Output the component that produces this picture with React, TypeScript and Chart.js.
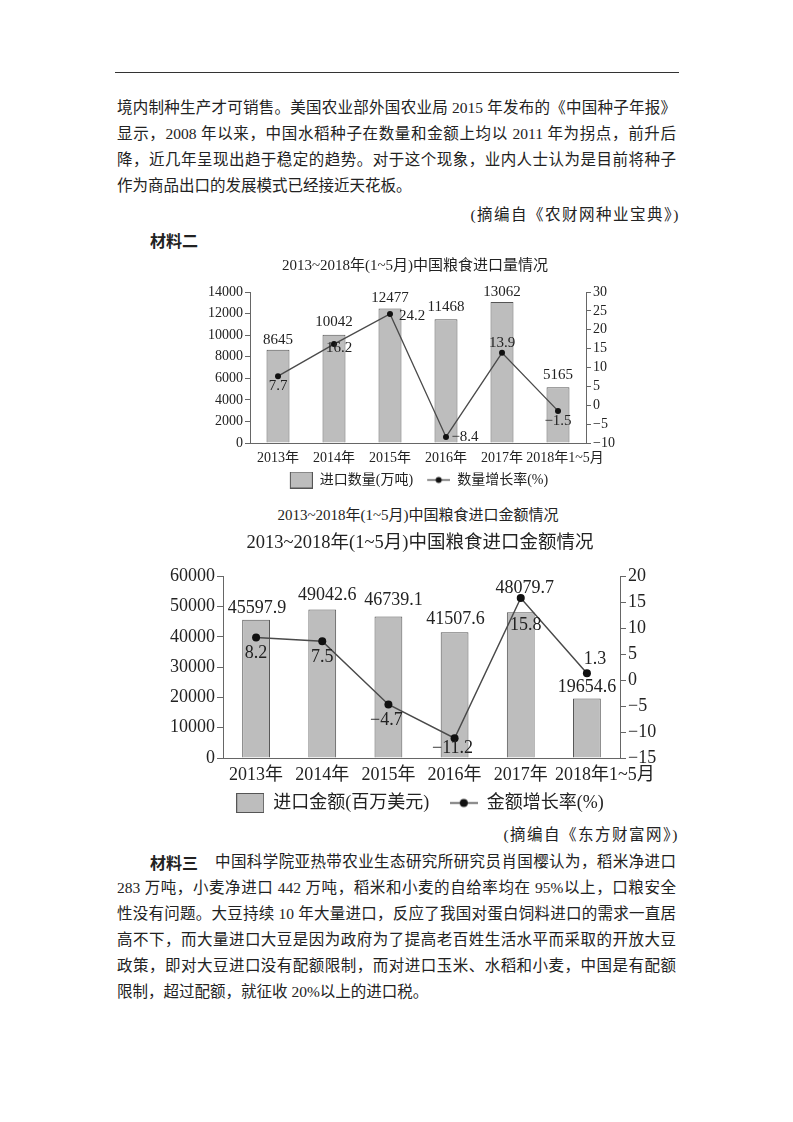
import React, { useEffect, useRef } from "react";
import { Chart, registerables } from "chart.js";

Chart.register(...registerables);

// ---------------- data ----------------
const categories = ["2013年", "2014年", "2015年", "2016年", "2017年", "2018年1~5月"];

const importVolume = [8645, 10042, 12477, 11468, 13062, 5165]; // 万吨
const volumeGrowth = [7.7, 16.2, 24.2, -8.4, 13.9, -1.5]; // %

const importValue = [45597.9, 49042.6, 46739.1, 41507.6, 48079.7, 19654.6]; // 百万美元
const valueGrowth = [8.2, 7.5, -4.7, -11.2, 15.8, 1.3]; // %

const volumeLeftRange = [0, 14000, 2000];
const volumeRightRange = [-10, 30, 5];
const valueLeftRange = [0, 60000, 10000];
const valueRightRange = [-15, 20, 5];

const volumeTitle = "2013~2018年(1~5月)中国粮食进口量情况";
const valueTitle = "2013~2018年(1~5月)中国粮食进口金额情况";
const volumeLegend = ["进口数量(万吨)", "数量增长率(%)"];
const valueLegend = ["进口金额(百万美元)", "金额增长率(%)"];

// ---------------- page text ----------------
const para1Lines = [
  "境内制种生产才可销售。美国农业部外国农业局 2015 年发布的《中国种子年报》",
  "显示，2008 年以来，中国水稻种子在数量和金额上均以 2011 年为拐点，前升后",
  "降，近几年呈现出趋于稳定的趋势。对于这个现象，业内人士认为是目前将种子",
  "作为商品出口的发展模式已经接近天花板。",
];
const source1 = "(摘编自《农财网种业宝典》)";
const heading2 = "材料二";
const source2 = "(摘编自《东方财富网》)";
const heading3 = "材料三";
const para3First = "中国科学院亚热带农业生态研究所研究员肖国樱认为，稻米净进口";
const para3Lines = [
  "283 万吨，小麦净进口 442 万吨，稻米和小麦的自给率均在 95%以上，口粮安全",
  "性没有问题。大豆持续 10 年大量进口，反应了我国对蛋白饲料进口的需求一直居",
  "高不下，而大量进口大豆是因为政府为了提高老百姓生活水平而采取的开放大豆",
  "政策，即对大豆进口没有配额限制，而对进口玉米、水稻和小麦，中国是有配额",
  "限制，超过配额，就征收 20%以上的进口税。",
];

// ---------------- styles ----------------
const FONT = "'Liberation Serif', 'Noto Sans CJK SC', serif";
const TEXT = "#222";
const AXIS = "#666";
const BAR_FILL = "#bdbdbd";
const BAR_BORDER = "#555";
const LINE_COLOR = "#4a4a4a";
const DOT = "#111";

// label offsets [dx, dy] relative to the drawn element
const volBarLabelOffsets = [[0, -10], [0, -13], [0, -10], [0, -12], [0, -10], [0, -12]];
const volLineLabelOffsets = [[0, 10], [5, 4], [22, 2], [19, 0], [0, -10], [0, 10]];
const valBarLabelOffsets = [[1, -12], [5, -14], [5, -16], [1, -13], [4, -24], [0, -11]];
const valLineLabelOffsets = [[0, 16], [0, 16], [-2, 16], [-2, 10], [5, 27], [8, -14]];

const minus = (s: string) => s.replace("-", "\u2212");

const valueLabelPlugin = {
  id: "valueLabels",
  afterDatasetsDraw(chart: any, _args: any, opts: any) {
    const ctx = chart.ctx;
    ctx.save();
    ctx.font = `${opts.size}px ${FONT}`;
    ctx.fillStyle = TEXT;
    ctx.textAlign = "center";
    ctx.textBaseline = "middle";
    chart.data.datasets.forEach((ds: any, di: number) => {
      const meta = chart.getDatasetMeta(di);
      const offs = opts.offsets[di];
      const dec = opts.decimals[di];
      meta.data.forEach((el: any, i: number) => {
        const v = ds.data[i] as number;
        const txt = minus(dec > 0 ? v.toFixed(dec) : String(v));
        ctx.fillText(txt, el.x + offs[i][0], el.y + offs[i][1]);
      });
    });
    ctx.restore();
  },
};

// icons are drawn right-aligned inside a canvas that is `pad` wider on the left
function boxIcon(w: number, h: number, pad: number) {
  const c = document.createElement("canvas");
  c.width = w + pad;
  c.height = h;
  const g = c.getContext("2d")!;
  g.fillStyle = BAR_FILL;
  g.fillRect(pad, 0, w, h);
  g.strokeStyle = BAR_BORDER;
  g.lineWidth = 1;
  g.strokeRect(pad + 0.5, 0.5, w - 1, h - 1);
  return c;
}

function lineIcon(w: number, h: number, r: number, lw: number, pad: number) {
  const c = document.createElement("canvas");
  c.width = w + pad;
  c.height = h;
  const g = c.getContext("2d")!;
  g.strokeStyle = LINE_COLOR;
  g.lineWidth = lw;
  g.beginPath();
  g.moveTo(pad, h / 2);
  g.lineTo(pad + w, h / 2);
  g.stroke();
  g.fillStyle = DOT;
  g.beginPath();
  g.arc(pad + w / 2, h / 2, r, 0, Math.PI * 2);
  g.fill();
  return c;
}

type Spec = {
  width: number;
  height: number;
  title: string;
  titleSize: number;
  titlePad: { top: number; bottom: number };
  tickSize: number;
  labelSize: number;
  legendSize: number;
  legendPad: number;
  legendTexts: string[];
  legendSpacer: string;
  lastTickPrefix: string;
  iconPad: number;
  iconW: number;
  iconH: number;
  dotR: number;
  lineW: number;
  bars: number[];
  line: number[];
  leftRange: number[];
  rightRange: number[];
  leftW: number;
  rightW: number;
  tickLen: number;
  xPad: number;
  xH: number;
  barPct: number;
  barDec: number;
  barOffs: number[][];
  lineOffs: number[][];
};

function buildConfig(s: Spec): any {
  const barImg = boxIcon(s.iconW, s.iconH, s.iconPad);
  const lineImg = lineIcon(s.iconW, Math.ceil(s.dotR * 2 + 3), s.dotR, s.lineW, s.iconPad);
  const tickFont = { family: FONT, size: s.tickSize };
  return {
    type: "bar",
    data: {
      labels: categories,
      datasets: [
        {
          type: "bar",
          label: s.legendTexts[0],
          data: s.bars,
          backgroundColor: BAR_FILL,
          borderColor: BAR_BORDER,
          borderWidth: 1,
          categoryPercentage: 1,
          barPercentage: s.barPct,
          yAxisID: "yL",
          order: 2,
        },
        {
          type: "line",
          label: s.legendTexts[1],
          data: s.line,
          borderColor: LINE_COLOR,
          borderWidth: s.lineW,
          pointRadius: s.dotR,
          pointBackgroundColor: DOT,
          pointBorderColor: DOT,
          pointBorderWidth: 0,
          tension: 0,
          yAxisID: "yR",
          order: 1,
        },
      ],
    },
    options: {
      responsive: false,
      animation: false,
      devicePixelRatio: 1,
      layout: { padding: 0 },
      scales: {
        x: {
          grid: { display: false, drawTicks: false },
          border: { display: true, color: AXIS, width: 1 },
          ticks: {
            font: tickFont,
            color: TEXT,
            padding: s.xPad,
            maxRotation: 0,
            autoSkip: false,
            callback: (_v: any, i: number) =>
              i === categories.length - 1 ? s.lastTickPrefix + categories[i] : categories[i],
          },
          afterFit: (sc: any) => {
            sc.height = s.xH;
          },
        },
        yL: {
          position: "left",
          min: s.leftRange[0],
          max: s.leftRange[1],
          ticks: {
            stepSize: s.leftRange[2],
            autoSkip: false,
            font: tickFont,
            color: TEXT,
            padding: 2,
            callback: (v: any) => String(v),
          },
          grid: { drawOnChartArea: false, drawTicks: true, tickLength: s.tickLen, color: AXIS },
          border: { display: true, color: AXIS, width: 1 },
          afterFit: (sc: any) => {
            sc.width = s.leftW;
          },
        },
        yR: {
          position: "right",
          min: s.rightRange[0],
          max: s.rightRange[1],
          ticks: {
            stepSize: s.rightRange[2],
            autoSkip: false,
            font: tickFont,
            color: TEXT,
            padding: 2,
            callback: (v: any) => minus(String(v)),
          },
          grid: { drawOnChartArea: false, drawTicks: true, tickLength: s.tickLen, color: AXIS },
          border: { display: true, color: AXIS, width: 1 },
          afterFit: (sc: any) => {
            sc.width = s.rightW;
          },
        },
      },
      plugins: {
        title: {
          display: true,
          text: s.title,
          color: TEXT,
          font: { family: FONT, size: s.titleSize, weight: "normal" },
          padding: s.titlePad,
        },
        legend: {
          display: true,
          position: "bottom",
          labels: {
            usePointStyle: true,
            pointStyleWidth: s.iconW + s.iconPad,
            padding: s.legendPad,
            color: TEXT,
            font: { family: FONT, size: s.legendSize },
            generateLabels: () => [
              { text: s.legendTexts[0] + s.legendSpacer, pointStyle: barImg, fillStyle: BAR_FILL, strokeStyle: BAR_BORDER, lineWidth: 0, hidden: false, datasetIndex: 0, fontColor: TEXT },
              { text: s.legendTexts[1], pointStyle: lineImg, fillStyle: DOT, strokeStyle: LINE_COLOR, lineWidth: 0, hidden: false, datasetIndex: 1, fontColor: TEXT },
            ],
          },
        },
        tooltip: { enabled: false },
        valueLabels: {
          size: s.labelSize,
          decimals: [s.barDec, 1],
          offsets: [s.barOffs, s.lineOffs],
        },
      },
    },
    plugins: [valueLabelPlugin],
  };
}

function ChartBox({ spec, left, top }: { spec: Spec; left: number; top: number }) {
  const ref = useRef<HTMLCanvasElement | null>(null);
  useEffect(() => {
    if (!ref.current) return;
    const chart = new Chart(ref.current, buildConfig(spec));
    return () => chart.destroy();
  }, []);
  return (
    <canvas
      ref={ref}
      width={spec.width}
      height={spec.height}
      style={{ position: "absolute", left, top, width: spec.width, height: spec.height }}
    />
  );
}

const volumeSpec: Spec = {
  width: 460,
  height: 247,
  title: volumeTitle,
  titleSize: 15,
  titlePad: { top: 7, bottom: 17 },
  tickSize: 14,
  labelSize: 15,
  legendSize: 14,
  legendPad: 6,
  legendTexts: volumeLegend,
  legendSpacer: "",
  lastTickPrefix: "\u2003",
  iconPad: 8,
  iconW: 23,
  iconH: 17,
  dotR: 3,
  lineW: 1.3,
  bars: importVolume,
  line: volumeGrowth,
  leftRange: volumeLeftRange,
  rightRange: volumeRightRange,
  leftW: 65,
  rightW: 59,
  tickLen: 5,
  xPad: 7,
  xH: 24,
  barPct: 0.41,
  barDec: 0,
  barOffs: volBarLabelOffsets,
  lineOffs: volLineLabelOffsets,
};

const valueSpec: Spec = {
  width: 520,
  height: 294,
  title: valueTitle,
  titleSize: 18.5,
  titlePad: { top: 4, bottom: 22 },
  tickSize: 18,
  labelSize: 18,
  legendSize: 18,
  legendPad: 8,
  legendTexts: valueLegend,
  legendSpacer: "\u2002\u2009",
  lastTickPrefix: "\u2003\u2003",
  iconPad: 0,
  iconW: 28,
  iconH: 20,
  dotR: 4,
  lineW: 1.5,
  bars: importValue,
  line: valueGrowth,
  leftRange: valueLeftRange,
  rightRange: valueRightRange,
  leftW: 63,
  rightW: 60,
  tickLen: 6,
  xPad: 6,
  xH: 28,
  barPct: 0.42,
  barDec: 1,
  barOffs: valBarLabelOffsets,
  lineOffs: valLineLabelOffsets,
};

const BODY_SIZE = 15.5;

function Line({ text, top, left, width, justify }: { text: string; top: number; left: number; width: number; justify: boolean }) {
  return (
    <div
      style={{
        position: "absolute",
        top: top - 13,
        left,
        width,
        height: 26,
        lineHeight: "26px",
        fontSize: BODY_SIZE,
        textAlign: justify ? "justify" : "left",
        textAlignLast: justify ? "justify" : "left",
        overflow: "visible",
      } as any}
    >
      {text}
    </div>
  );
}

export default function App() {
  const p1Tops = [108, 134, 160, 186];
  const p3Tops = [888, 914, 940, 966, 992];
  return (
    <div
      style={{
        position: "absolute",
        left: 0,
        top: 0,
        width: 793,
        height: 1122,
        background: "#fff",
        color: TEXT,
        fontFamily: FONT,
      }}
    >
      <div style={{ position: "absolute", left: 115, top: 72, width: 564, height: 1, background: "#333" }} />
      {para1Lines.map((t, i) => (
        <Line key={i} text={t} top={p1Tops[i]} left={117} width={559} justify={i < para1Lines.length - 1} />
      ))}
      <div
        style={{
          position: "absolute",
          top: 215 - 13,
          left: 376,
          width: 304,
          lineHeight: "26px",
          fontSize: BODY_SIZE,
          textAlign: "right",
          letterSpacing: 1.5,
        }}
      >
        {source1}
      </div>
      <div
        style={{
          position: "absolute",
          top: 240 - 13,
          left: 150,
          lineHeight: "26px",
          fontSize: 16,
          fontWeight: "bold",
          fontFamily: "'Noto Sans CJK SC', sans-serif",
        }}
      >
        {heading2}
      </div>
      <ChartBox spec={volumeSpec} left={185} top={250} />
      <div
        style={{
          position: "absolute",
          top: 515 - 10,
          left: 218,
          width: 400,
          lineHeight: "20px",
          fontSize: 15,
          textAlign: "center",
        }}
      >
        {valueTitle}
      </div>
      <ChartBox spec={valueSpec} left={160} top={528} />
      <div
        style={{
          position: "absolute",
          top: 835 - 13,
          left: 400,
          width: 279,
          lineHeight: "26px",
          fontSize: BODY_SIZE,
          textAlign: "right",
          letterSpacing: 1.5,
        }}
      >
        {source2}
      </div>
      <div
        style={{
          position: "absolute",
          top: 862 - 13,
          left: 150,
          lineHeight: "26px",
          fontSize: 16,
          fontWeight: "bold",
          fontFamily: "'Noto Sans CJK SC', sans-serif",
        }}
      >
        {heading3}
      </div>
      <Line text={para3First} top={862} left={215} width={461} justify={true} />
      {para3Lines.map((t, i) => (
        <Line key={i} text={t} top={p3Tops[i]} left={117} width={559} justify={i < para3Lines.length - 1} />
      ))}
    </div>
  );
}
